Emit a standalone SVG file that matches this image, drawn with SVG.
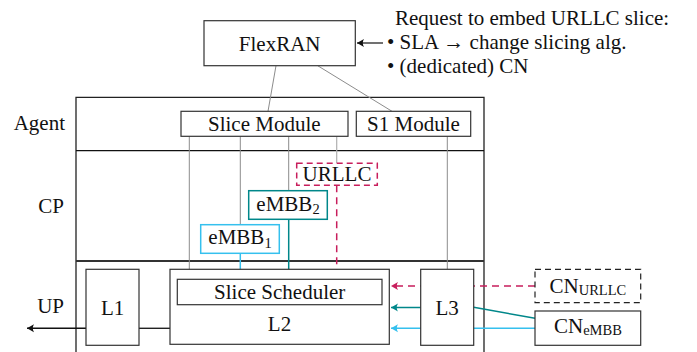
<svg xmlns="http://www.w3.org/2000/svg" width="697" height="352" viewBox="0 0 697 352">
<defs>
<style>
.t{font-family:'Liberation Serif','DejaVu Serif',serif;font-size:21px;fill:#111}
.box{fill:#fff;stroke:#333;stroke-width:1.2}
.g{stroke:#8c8c8c;stroke-width:1;fill:none}
.crim{stroke:#C81E5C}
.teal{stroke:#00878A}
.cyan{stroke:#35C0EE}
</style>
<marker id="ak" viewBox="-8 -5 9 10" refX="0" refY="0" markerWidth="9" markerHeight="10" markerUnits="userSpaceOnUse" orient="auto"><path d="M0,0 L-7,-4 Q-4.5,0 -7,4 Z" fill="#111"/></marker>
<marker id="ac" viewBox="-8 -5 9 10" refX="0" refY="0" markerWidth="9" markerHeight="10" markerUnits="userSpaceOnUse" orient="auto"><path d="M0,0 L-7,-4 Q-4.5,0 -7,4 Z" fill="#C81E5C"/></marker>
<marker id="at" viewBox="-8 -5 9 10" refX="0" refY="0" markerWidth="9" markerHeight="10" markerUnits="userSpaceOnUse" orient="auto"><path d="M0,0 L-7,-4 Q-4.5,0 -7,4 Z" fill="#00878A"/></marker>
<marker id="ay" viewBox="-8 -5 9 10" refX="0" refY="0" markerWidth="9" markerHeight="10" markerUnits="userSpaceOnUse" orient="auto"><path d="M0,0 L-7,-4 Q-4.5,0 -7,4 Z" fill="#35C0EE"/></marker>
</defs>

<g id="frame">
<path d="M76,352 V97.3 H484 V352" fill="none" stroke="#222" stroke-width="1.3"/>
<line x1="76" y1="150.6" x2="484" y2="150.6" stroke="#111" stroke-width="1.2"/>
<line x1="76" y1="261" x2="484" y2="261" stroke="#333" stroke-width="2"/>
<text class="t" x="65" y="130" text-anchor="end">Agent</text>
<text class="t" x="64" y="213" text-anchor="end">CP</text>
<text class="t" x="64" y="313" text-anchor="end">UP</text>
</g>

<g id="connectors">
<line class="g" x1="276" y1="65.7" x2="268" y2="111.3"/>
<line class="g" x1="317.7" y1="65.7" x2="392" y2="111.3"/>
<line x1="383" y1="43" x2="357" y2="43" stroke="#111" stroke-width="1.2" marker-end="url(#ak)"/>
<line class="g" x1="189.3" y1="136.3" x2="189.3" y2="279.3"/>
<line class="g" x1="240.3" y1="136.3" x2="240.3" y2="224.7"/>
<line class="g" x1="288.7" y1="136.3" x2="288.7" y2="190.7"/>
<line x1="336.7" y1="136.3" x2="336.7" y2="163.3" stroke="#b0b0b0" stroke-width="1.2"/>
<line class="g" x1="447.3" y1="136.3" x2="447.3" y2="269.3"/>
<line class="cyan" x1="240.3" y1="253.3" x2="240.3" y2="279.3" stroke-width="1.5"/>
<line class="teal" x1="288.7" y1="219.3" x2="288.7" y2="279.3" stroke-width="1.5"/>
<line class="crim" x1="336.7" y1="185.3" x2="336.7" y2="272" stroke-width="1.5" stroke-dasharray="7 5"/>
<line x1="86" y1="328.3" x2="27" y2="328.3" stroke="#111" stroke-width="1.4" marker-end="url(#ak)"/>
<line x1="139" y1="328.3" x2="170" y2="328.3" stroke="#222" stroke-width="1.4"/>
<line class="crim" x1="535" y1="286" x2="391" y2="286" stroke-width="1.5" stroke-dasharray="7 5" marker-end="url(#ac)"/>
<line class="teal" x1="420.7" y1="307.5" x2="391" y2="307.5" stroke-width="1.5" marker-end="url(#at)"/>
<line class="teal" x1="473.7" y1="307.3" x2="535" y2="318.3" stroke-width="1.5"/>
<line class="cyan" x1="535" y1="328.3" x2="391" y2="328.3" stroke-width="1.5" marker-end="url(#ay)"/>
</g>

<g id="flexran">
<rect class="box" x="204" y="20.7" width="151.3" height="45"/>
<text class="t" x="279.7" y="51" text-anchor="middle">FlexRAN</text>
</g>

<g id="request">
<text class="t" x="395" y="25">Request to embed URLLC slice:</text>
<text class="t" x="387" y="49">• SLA → change slicing alg.</text>
<text class="t" x="387" y="73">• (dedicated) CN</text>
</g>

<g id="slice-module">
<rect class="box" x="181" y="111.3" width="167" height="25"/>
<text class="t" x="264.3" y="131" text-anchor="middle">Slice Module</text>
</g>

<g id="s1-module">
<rect class="box" x="356.3" y="111.3" width="114.4" height="25"/>
<text class="t" x="413.5" y="131" text-anchor="middle">S1 Module</text>
</g>

<g id="urllc">
<rect x="296.7" y="163.3" width="80.6" height="22" fill="#fff" stroke="#C81E5C" stroke-width="1.5" stroke-dasharray="6 4"/>
<text class="t" x="337" y="180.5" text-anchor="middle">URLLC</text>
</g>

<g id="embb2">
<rect x="248.7" y="190.7" width="78.6" height="28.6" fill="#fff" stroke="#00878A" stroke-width="1.5"/>
<text class="t" x="288" y="210.5" text-anchor="middle">eMBB<tspan font-size="14.5" dy="3.5">2</tspan></text>
</g>

<g id="embb1">
<rect x="200.7" y="224.7" width="78.6" height="28.6" fill="#fff" stroke="#35C0EE" stroke-width="1.5"/>
<text class="t" x="240" y="244.3" text-anchor="middle">eMBB<tspan font-size="14.5" dy="3.5">1</tspan></text>
</g>

<g id="l1">
<rect class="box" x="86" y="269.3" width="53" height="76"/>
<text class="t" x="112.7" y="315.3" text-anchor="middle">L1</text>
</g>

<g id="l2">
<rect class="box" x="170" y="269.3" width="219.3" height="75"/>
<text class="t" x="279.5" y="330.7" text-anchor="middle">L2</text>
</g>

<g id="slice-scheduler">
<rect class="box" x="177.3" y="279.3" width="204.7" height="25.4"/>
<text class="t" x="279.7" y="299.3" text-anchor="middle">Slice Scheduler</text>
</g>

<g id="l3">
<rect class="box" x="420.7" y="269.3" width="53" height="76"/>
<text class="t" x="447.2" y="315" text-anchor="middle">L3</text>
</g>

<g id="cn-urllc">
<rect x="535" y="269.3" width="105.7" height="33.4" fill="#fff" stroke="#222" stroke-width="1.2" stroke-dasharray="6 4"/>
<text class="t" x="587.9" y="293.3" text-anchor="middle">CN<tspan font-size="14.5" dy="1.7">URLLC</tspan></text>
</g>

<g id="cn-embb">
<rect class="box" x="535" y="311" width="105.7" height="34.3"/>
<text class="t" x="587.9" y="333.3" text-anchor="middle">CN<tspan font-size="14.5" dy="1.7">eMBB</tspan></text>
</g>
</svg>
